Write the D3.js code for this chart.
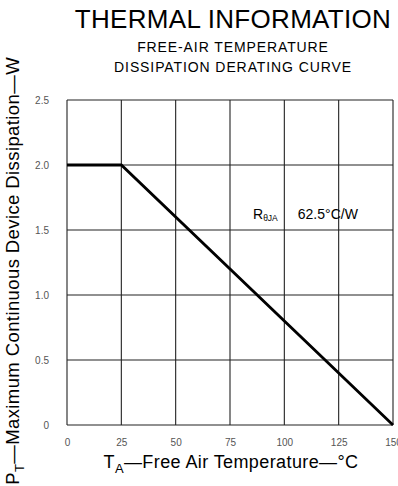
<!DOCTYPE html>
<html>
<head>
<meta charset="utf-8">
<script src="https://cdn.jsdelivr.net/npm/d3@7"></script>
<style>
  body { margin: 0; background: #fff; }
  text { font-family: "Liberation Sans", Arial, sans-serif; }
</style>
</head>
<body>
<div id="view"></div>
<script>
// data
const tempTicks = [0, 25, 50, 75, 100, 125, 150];
const powerTicks = [0, 0.5, 1.0, 1.5, 2.0, 2.5];
const curveTemp = [0, 25, 150];
const curvePower = [2.0, 2.0, 0];

const width = 398, height = 486;
const plotLeft = 67, plotRight = 393, plotTop = 100, plotBottom = 425;

const svg = d3.select("#view")
    .append("svg")
    .attr("width", width)
    .attr("height", height);

const mapX = d3.scaleLinear().domain([0, 150]).range([plotLeft, plotRight]);
const mapY = d3.scaleLinear().domain([0, 2.5]).range([plotBottom, plotTop]);

// titles
svg.append("text")
    .attr("x", 233).attr("y", 28)
    .attr("text-anchor", "middle")
    .style("font-size", "26px")
    .style("letter-spacing", "0.3px")
    .text("THERMAL INFORMATION");
svg.append("text")
    .attr("x", 233).attr("y", 52)
    .attr("text-anchor", "middle")
    .style("font-size", "14px")
    .style("letter-spacing", "0.9px")
    .text("FREE-AIR TEMPERATURE");
svg.append("text")
    .attr("x", 233).attr("y", 72)
    .attr("text-anchor", "middle")
    .style("font-size", "14px")
    .style("letter-spacing", "0.9px")
    .text("DISSIPATION DERATING CURVE");

// grid
const grid = svg.append("g").attr("stroke", "#222").attr("stroke-width", 1.1);
grid.selectAll("line.v")
    .data(tempTicks)
    .join("line")
    .attr("class", "v")
    .attr("x1", d => mapX(d)).attr("x2", d => mapX(d))
    .attr("y1", plotTop).attr("y2", plotBottom);
grid.selectAll("line.h")
    .data(powerTicks)
    .join("line")
    .attr("class", "h")
    .attr("x1", plotLeft).attr("x2", plotRight)
    .attr("y1", d => mapY(d)).attr("y2", d => mapY(d));

// axes (labels only)
const xAxis = d3.axisBottom(mapX).tickValues(tempTicks).tickSize(0).tickPadding(14);
svg.append("g")
    .attr("transform", `translate(0, ${plotBottom})`)
    .call(xAxis)
    .call(g => g.select(".domain").remove())
    .call(g => g.selectAll("text").style("font-size", "10px").attr("fill", "#555")
        .style("font-family", "'Liberation Sans', Arial, sans-serif"));

const yAxis = d3.axisLeft(mapY).tickValues(powerTicks).tickSize(0).tickPadding(18)
    .tickFormat(d => d === 0 ? "0" : d3.format(".1f")(d));
svg.append("g")
    .attr("transform", `translate(${plotLeft}, 0)`)
    .call(yAxis)
    .call(g => g.select(".domain").remove())
    .call(g => g.selectAll("text").style("font-size", "10px").attr("fill", "#555")
        .style("font-family", "'Liberation Sans', Arial, sans-serif"));

// derating curve
const line = d3.line().x(d => mapX(d[0])).y(d => mapY(d[1]));
svg.append("path")
    .datum(curveTemp.map((t, i) => [t, curvePower[i]]))
    .attr("d", line)
    .attr("fill", "none")
    .attr("stroke", "#000")
    .attr("stroke-width", 2.8);

// annotation
const ann = svg.append("text")
    .attr("x", 253).attr("y", 219)
    .style("font-size", "14px");
ann.append("tspan").text("R");
ann.append("tspan").attr("dy", 2).style("font-size", "8.5px").text("θJA");
ann.append("tspan").attr("dy", -2).attr("dx", 20).text("62.5°C/W");

// axis titles
const xt = svg.append("text")
    .attr("x", 231).attr("y", 468)
    .attr("text-anchor", "middle")
    .style("font-size", "18px")
    .style("letter-spacing", "0.4px");
xt.append("tspan").text("T");
xt.append("tspan").attr("dy", 5).style("font-size", "13px").text("A");
xt.append("tspan").attr("dy", -5).text("—Free Air Temperature—°C");

const yt = svg.append("text")
    .attr("transform", "translate(19, 57) rotate(-90)")
    .attr("text-anchor", "end")
    .style("font-size", "18.5px")
    .style("letter-spacing", "0.4px");
yt.append("tspan").text("P");
yt.append("tspan").attr("dy", 5).style("font-size", "13px").text("T");
yt.append("tspan").attr("dy", -5).text("—Maximum Continuous Device Dissipation—W");
</script>
</body>
</html>
